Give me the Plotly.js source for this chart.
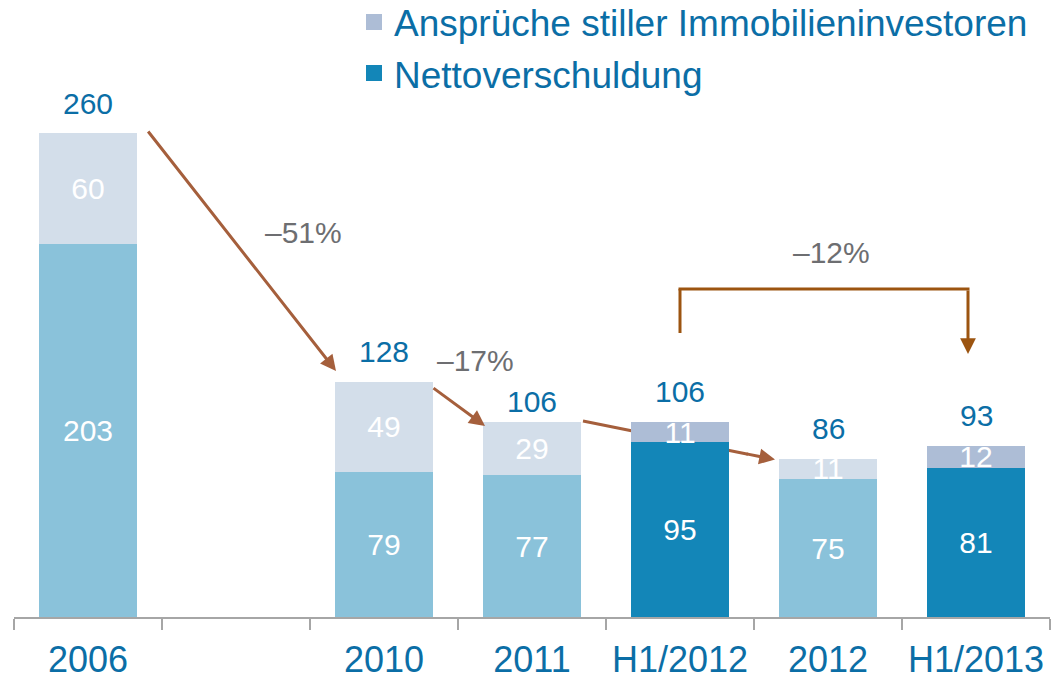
<!DOCTYPE html>
<html><head><meta charset="utf-8">
<script src="https://cdn.plot.ly/plotly-3.0.1.min.js"></script>
<style>html,body{margin:0;padding:0;background:#fff}#chart{width:1051px;height:680px}</style>
</head><body><div id="chart"></div>
<script>
// ---- data ----
const categories = ['2006', ' ', '2010', '2011', 'H1/2012', '2012', 'H1/2013'];
const nettoverschuldung = [203, null, 79, 77, 95, 75, 81];
const ansprueche = [60, null, 49, 29, 11, 11, 12];
const totals = [260, null, 128, 106, 106, 86, 93];
const halfYear = [false, false, false, false, true, false, true];
const changeLabels = ['–51%', '–17%', '–12%'];
const seriesNames = ['Ansprüche stiller Immobilieninvestoren', 'Nettoverschuldung'];

// ---- style ----
const FONT = 'Arial, "Liberation Sans", sans-serif';
const BLUE_TEXT = '#0B6EA6';
const GREY_TEXT = '#6D6E71';
const C_NET_ANNUAL = '#8AC2DA', C_NET_H1 = '#1386B8';
const C_ANS_ANNUAL = '#D3DEEA', C_ANS_H1 = '#ADBDD6';
const ARROW = '#A55F3C', BRACKET = '#9C5410';

// ---- geometry ----
const W = 1051, H = 680;
const M = {l: 14, r: 1, t: 100, b: 63, autoexpand: false};
const plotW = W - M.l - M.r, plotH = H - M.t - M.b;
const slot = plotW / categories.length;
const yMax = 281;
const px2x = px => (px - M.l) / slot - 0.5;
const px2y = py => (H - M.b - py) / (plotH / yMax);

const netColors = halfYear.map(h => h ? C_NET_H1 : C_NET_ANNUAL);
const ansColors = halfYear.map(h => h ? C_ANS_H1 : C_ANS_ANNUAL);
const txt = arr => arr.map(v => v == null ? '' : String(v));

const barCommon = {
  type: 'bar', x: categories, width: 0.662,
  textposition: 'inside', insidetextanchor: 'middle', textangle: 0,
  constraintext: 'none', cliponaxis: false,
  textfont: {family: FONT, size: 30, color: '#ffffff'},
  hoverinfo: 'skip', showlegend: false
};

const traces = [
  Object.assign({}, barCommon, {name: seriesNames[1], y: nettoverschuldung, text: txt(nettoverschuldung),
    marker: {color: netColors, line: {width: 0}}}),
  Object.assign({}, barCommon, {name: seriesNames[0], y: ansprueche, text: txt(ansprueche),
    marker: {color: ansColors, line: {width: 0}}}),
  {type: 'scatter', mode: 'markers', x: [null], y: [null], name: seriesNames[0],
   marker: {symbol: 'square', size: 18, color: C_ANS_H1}, showlegend: true, hoverinfo: 'skip'},
  {type: 'scatter', mode: 'markers', x: [null], y: [null], name: seriesNames[1],
   marker: {symbol: 'square', size: 18, color: C_NET_H1}, showlegend: true, hoverinfo: 'skip'}
];

const annotations = [];
const labelLift = {'2011': 20};
categories.forEach((c, i) => {
  if (totals[i] == null) return;
  annotations.push({
    x: i, y: nettoverschuldung[i] + ansprueche[i], xref: 'x', yref: 'y',
    text: String(totals[i]), showarrow: false, yanchor: 'middle',
    yshift: labelLift[c] || 30,
    font: {family: FONT, size: 30, color: BLUE_TEXT}
  });
});
// change labels
[[303, 232], [475, 360], [831, 252]].forEach((p, k) => {
  annotations.push({x: px2x(p[0]), y: px2y(p[1]), xref: 'x', yref: 'y', text: changeLabels[k],
    showarrow: false, font: {family: FONT, size: 30, color: GREY_TEXT}});
});
// arrows
function arrow(tail, tip, color) {
  annotations.push({x: px2x(tip[0]), y: px2y(tip[1]), ax: px2x(tail[0]), ay: px2y(tail[1]),
    xref: 'x', yref: 'y', axref: 'x', ayref: 'y', text: '', showarrow: true,
    arrowhead: 2, arrowsize: 1.05, arrowwidth: 3, arrowcolor: color, standoff: 0, startstandoff: 0});
}
arrow([147, 130], [336, 371], ARROW);
arrow([432, 387], [485, 426], ARROW);
arrow([745, 453.6], [775, 459.6], ARROW);
arrow([968, 289], [968, 354], BRACKET);

const lineShape = (a, b, color, layer) => ({type: 'line', xref: 'x', yref: 'y',
  x0: px2x(a[0]), y0: px2y(a[1]), x1: px2x(b[0]), y1: px2y(b[1]),
  line: {color: color, width: 3}, layer: layer || 'above'});
const shapes = [
  lineShape([583, 421], [748, 454.2], ARROW, 'below'),
  lineShape([680, 333], [680, 289], BRACKET),
  lineShape([678.5, 289], [969.5, 289], BRACKET)
];

const layout = {
  width: W, height: H, margin: M,
  paper_bgcolor: '#ffffff', plot_bgcolor: '#ffffff',
  barmode: 'stack', bargap: 0.338,
  font: {family: FONT, color: BLUE_TEXT},
  xaxis: {type: 'category', range: [-0.5, 6.5], fixedrange: true, automargin: false,
    showline: true, linecolor: '#A6A6A6', linewidth: 2,
    ticks: 'outside', tickson: 'boundaries', ticklen: 11, tickcolor: '#A6A6A6', tickwidth: 2,
    ticklabelstandoff: 10,
    tickfont: {family: FONT, size: 36, color: BLUE_TEXT}, showgrid: false, zeroline: false},
  yaxis: {range: [0, yMax], visible: false, fixedrange: true, automargin: false},
  showlegend: true,
  legend: {x: (354 - M.l) / plotW, xanchor: 'left', y: 1.21, yanchor: 'top',
    font: {family: FONT, size: 37, color: BLUE_TEXT}, bgcolor: 'rgba(0,0,0,0)',
    itemclick: false, itemdoubleclick: false, traceorder: 'normal', tracegroupgap: 0},
  annotations: annotations, shapes: shapes,
  hovermode: false
};

Plotly.newPlot('chart', traces, layout, {displayModeBar: false, staticPlot: true});
</script>
</body></html>
